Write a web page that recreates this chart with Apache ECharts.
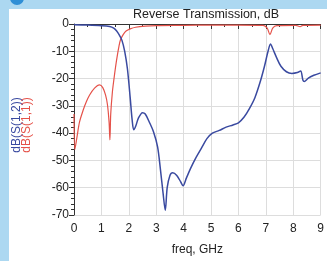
<!DOCTYPE html>
<html><head><meta charset="utf-8">
<script src="https://cdn.jsdelivr.net/npm/echarts@6/dist/echarts.min.js"></script>
<style>html,body{margin:0;padding:0;background:#acd8f1;}#c{width:327px;height:261px;}</style>
</head><body><div id="c"></div>
<script>
var titleText = 'Reverse Transmission, dB';
var xName = 'freq, GHz';
var yNames = ['dB(S(1,2))', 'dB(S(1,1))'];
var xTicks = [0,1,2,3,4,5,6,7,8,9];
var yTicks = [0,-10,-20,-30,-40,-50,-60,-70];
var s12 = [[0,-0.3],[0.5,-0.4],[1.0,-0.6],[1.3,-0.9],[1.45,-1.5],[1.55,-2.5],[1.65,-4],[1.75,-6],[1.85,-10],[1.95,-16.5],[2.05,-27],[2.12,-35],[2.18,-38.8],[2.25,-37.5],[2.35,-34.5],[2.5,-32.5],[2.6,-33],[2.75,-36],[2.9,-39.5],[3.05,-45],[3.15,-53],[3.25,-62],[3.33,-68.3],[3.4,-60],[3.5,-55.5],[3.6,-54.5],[3.75,-55.5],[3.9,-58],[3.98,-59.3],[4.1,-56.5],[4.25,-53],[4.45,-49],[4.65,-45.5],[4.85,-42],[5.05,-40],[5.3,-39],[5.55,-37.8],[5.8,-37],[6.0,-36.2],[6.2,-34.2],[6.4,-31],[6.6,-27],[6.8,-21],[6.95,-15.5],[7.08,-10],[7.17,-7.3],[7.25,-9],[7.4,-12.5],[7.55,-15.5],[7.75,-17.5],[7.95,-18.1],[8.15,-17.8],[8.27,-17.2],[8.35,-20.5],[8.4,-21.1],[8.55,-19.8],[8.75,-18.8],[9.0,-17.9]];
var s11 = [[0,-33],[0.03,-46],[0.1,-42],[0.2,-36],[0.33,-31.7],[0.45,-28.5],[0.57,-26],[0.75,-23.5],[0.93,-22.3],[1.05,-23.3],[1.15,-26],[1.22,-29.5],[1.28,-36],[1.31,-42.5],[1.34,-33],[1.4,-25],[1.46,-20],[1.52,-15.5],[1.58,-11.6],[1.64,-8.2],[1.7,-5.7],[1.8,-3.8],[1.9,-2.6],[2.05,-1.8],[2.25,-1.2],[2.6,-0.8],[3,-0.6],[4,-0.5],[5,-0.4],[5.5,-0.4],[6,-0.4],[6.9,-0.5],[7.05,-1.5],[7.15,-3.9],[7.25,-1.5],[7.4,-0.6],[8.1,-0.5],[8.25,-1.0],[8.35,-0.5],[9,-0.4]];
var blue = '#3a4aa0', red = '#e5524a';
var font = 'Liberation Sans, Arial, sans-serif';
var chart = echarts.init(document.getElementById('c'));
chart.setOption({
  animation: false,
  backgroundColor: 'transparent',
  graphic: [
    {type:'rect', z:-10, shape:{x:9,y:9,width:330,height:260}, style:{fill:'#ffffff'}},
    {type:'circle', shape:{cx:17,cy:-2,r:7}, style:{fill:'#2f8fd6'}},
    {type:'text', x:17, y:125, rotation:Math.PI/2, style:{text:yNames[0], fill:blue, font:'12px '+font, align:'center', verticalAlign:'middle'}},
    {type:'text', x:27, y:125, rotation:Math.PI/2, style:{text:yNames[1], fill:red, font:'12px '+font, align:'center', verticalAlign:'middle'}}
  ],
  title: {text: titleText, left: 201, top: 3, textAlign:'center', textStyle:{fontSize:12.5, fontWeight:'normal', color:'#222', fontFamily:font}},
  grid: {left:74, top:24, right:1, bottom:40, containLabel:false},
  xAxis: {type:'value', min:0, max:9, interval:1, name:xName, nameLocation:'middle', nameGap:29,
    nameTextStyle:{fontSize:12, color:'#222', fontFamily:font},
    axisLine:{lineStyle:{color:'#333'}}, axisTick:{length:5, lineStyle:{color:'#333'}},
    minorTick:{show:true, splitNumber:2, length:3, lineStyle:{color:'#333'}},
    axisLabel:{fontSize:12, color:'#222', fontFamily:font, margin:8, formatter:function(v){return xTicks.indexOf(v)>=0?String(v):'';}},
    splitLine:{show:true, lineStyle:{color:'#dddddd'}}},
  yAxis: {type:'value', min:-70, max:0, interval:10,
    axisLine:{show:true, lineStyle:{color:'#333'}}, axisTick:{show:true, length:5, lineStyle:{color:'#333'}},
    minorTick:{show:true, splitNumber:5, length:3, lineStyle:{color:'#333'}},
    axisLabel:{fontSize:12, color:'#222', fontFamily:font, margin:5, formatter:function(v){return yTicks.indexOf(v)>=0?String(v):'';}},
    splitLine:{show:true, lineStyle:{color:'#dddddd'}}},
  series: [
    {type:'line', data:s11, showSymbol:false, smooth:0.3, lineStyle:{color:red, width:1.2}, itemStyle:{color:red}},
    {type:'line', data:s12, showSymbol:false, smooth:0.3, lineStyle:{color:blue, width:1.5}, itemStyle:{color:blue}}
  ]
});
</script></body></html>
